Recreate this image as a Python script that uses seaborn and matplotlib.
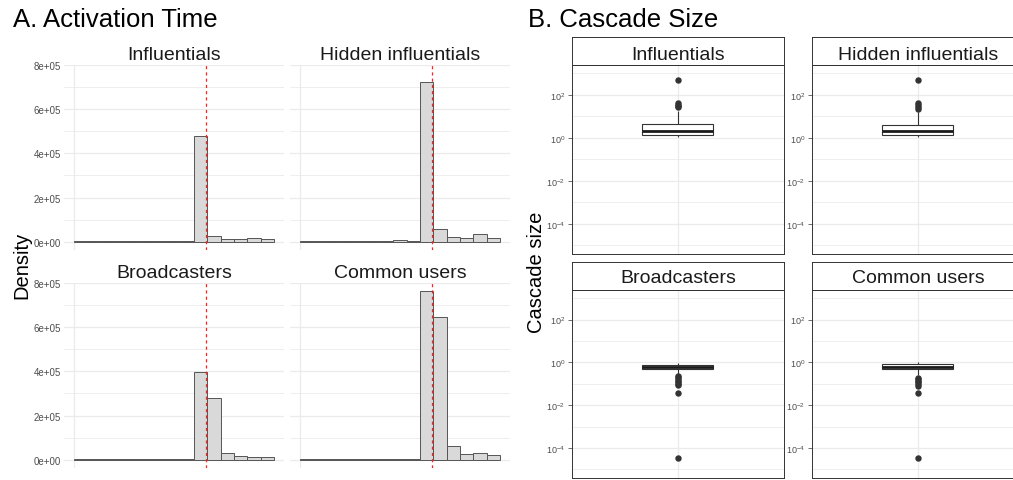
import numpy as np
import matplotlib
matplotlib.use("Agg")
import matplotlib.pyplot as plt
from matplotlib.ticker import FixedLocator, NullFormatter
import seaborn as sns

sns.set_theme(style="white")
plt.rcParams['font.family'] = ['Liberation Sans', 'DejaVu Sans']
plt.rcParams['mathtext.fontset'] = 'custom'
plt.rcParams['mathtext.rm'] = 'Liberation Sans'
plt.rcParams['mathtext.it'] = 'Liberation Sans:italic'

groups = ["Influentials", "Hidden influentials", "Broadcasters", "Common users"]

# A. activation time: 15 bins, density per bin
bin_edges = [0, 1, 2, 3, 4, 5, 6, 7, 8, 9, 10, 11, 12, 13, 14, 15]
act_influentials = [1000, 500, 500, 2500, 500, 500, 500, 2000, 2000, 480000, 24000, 10000, 10000, 16000, 10000]
act_hidden = [3000, 1000, 1000, 3000, 2000, 1000, 2000, 8000, 3000, 725000, 57000, 20000, 15000, 35000, 17000]
act_broadcasters = [1000, 500, 500, 2000, 500, 500, 500, 2000, 3000, 396000, 281000, 28000, 15000, 11000, 14000]
act_common = [1000, 500, 500, 2000, 3000, 1000, 1000, 3000, 3000, 763000, 649000, 63000, 26000, 29000, 20000]
act_marker = 9.93  # red dashed reference line
act_yticks = [0, 200000, 400000, 600000, 800000]
act_ylabels = ["0e+00", "2e+05", "4e+05", "6e+05", "8e+05"]

# B. cascade size samples
size_influentials = [1.07, 1.1, 1.15, 1.2, 1.25, 1.3, 1.36, 1.45, 1.6, 1.75, 1.9, 2.0, 2.14,
                     2.5, 2.9, 3.3, 3.7, 4.1, 4.4, 17, 27, 31, 35, 40, 480]
size_hidden = [1.07, 1.1, 1.15, 1.2, 1.25, 1.3, 1.32, 1.4, 1.5, 1.65, 1.8, 1.9, 2.03,
               2.3, 2.6, 2.9, 3.3, 3.6, 3.86, 15, 22, 27, 33, 40, 480]
size_broadcasters = [3.4e-5, 0.039, 0.085, 0.1, 0.12, 0.14, 0.17, 0.2, 0.23, 0.25,
                     0.47, 0.49, 0.5, 0.52, 0.53, 0.54, 0.55, 0.56, 0.57, 0.58,
                     0.585, 0.6, 0.62, 0.64, 0.65, 0.67, 0.69, 0.7, 0.72, 0.74,
                     0.75, 0.77, 0.79, 0.81, 0.83, 0.85, 0.87, 0.89, 0.92, 0.95, 0.97]
size_common = [3.4e-5, 0.039, 0.08, 0.1, 0.12, 0.14, 0.16, 0.19, 0.25, 0.35,
               0.47, 0.49, 0.5, 0.52, 0.53, 0.55, 0.56, 0.57, 0.58, 0.59,
               0.6, 0.62, 0.64, 0.66, 0.68, 0.7, 0.72, 0.74, 0.76, 0.78,
               0.81, 0.83, 0.85, 0.87, 0.89, 0.9, 0.92, 0.94, 0.96, 0.98, 1.0]
size_yticks = [1e-4, 1e-2, 1, 1e2]
size_ylabels = [r"$10^{-4}$", r"$10^{-2}$", r"$10^{0}$", r"$10^{2}$"]
size_yminor = [1e-5, 1e-3, 1e-1, 1e1, 1e3]

act_data = dict(zip(groups, [act_influentials, act_hidden, act_broadcasters, act_common]))
size_data = dict(zip(groups, [size_influentials, size_hidden, size_broadcasters, size_common]))

W, H = 1013, 481
fig = plt.figure(figsize=(W / 100, H / 100), dpi=100)


def box(l, t, r, b):
    return [l / W, 1 - b / H, (r - l) / W, (b - t) / H]


grid_c = "#EBEBEB"
text_c = "#1A1A1A"
tick_c = "#4D4D4D"
line_c = "#333333"

# ---------- A. Activation Time ----------
a_pos = {
    "Influentials": (64, 66, 284, 251, 60),
    "Hidden influentials": (290, 66, 510, 251, 60),
    "Broadcasters": (64, 284, 284, 469, 278),
    "Common users": (290, 284, 510, 469, 278),
}
centers = [e + 0.5 for e in bin_edges[:-1]]
for i, g in enumerate(groups):
    l, t, r, b, base = a_pos[g]
    ax = fig.add_axes(box(l, t, r, b))
    sns.histplot(x=centers, weights=act_data[g], bins=bin_edges, ax=ax,
                 color="#D9D9D9", edgecolor="#555555", linewidth=0.7, alpha=1)
    ax.axvline(act_marker, color="#FF2020", ls=(0, (2.5, 2.5)), lw=0.9, zorder=3)
    ax.set_xlim(-0.75, 15.75)
    ax.set_ylim(-38150, 801150)
    ax.set_yticks(act_yticks)
    ax.set_yticklabels(act_ylabels)
    ax.set_yticks([100000, 300000, 500000, 700000], minor=True)
    ax.set_xticks([0])
    ax.set_xticklabels([])
    ax.grid(True, which="major", color=grid_c, lw=0.9)
    ax.grid(True, which="minor", axis="y", color=grid_c, lw=0.6)
    ax.set_axisbelow(True)
    for s in ax.spines.values():
        s.set_visible(False)
    ax.tick_params(which="both", length=0, labelsize=7, labelcolor=tick_c, pad=2)
    if i % 2 == 1:
        ax.tick_params(labelleft=False)
    ax.set_xlabel("")
    ax.set_ylabel("")
    fig.text((l + r) / 2 / W, 1 - base / H, g, ha="center", va="baseline",
             fontsize=14, color=text_c)

fig.text(12.5 / W, 1 - 27.3 / H, "A. Activation Time", ha="left", va="baseline",
         fontsize=18.5, color="black")
fig.text(21.5 / W, 1 - 265 / H, "Density", rotation=90, ha="center", va="center",
         fontsize=14.5, color="black")

# ---------- B. Cascade Size ----------
b_pos = {
    "Influentials": (571.7, 38, 784, 66, 255, 60),
    "Hidden influentials": (811.7, 38, 1024, 66, 255, 60),
    "Broadcasters": (571.7, 263.3, 784, 291, 479, 283.3),
    "Common users": (811.7, 263.3, 1024, 291, 479, 283.3),
}
for g in groups:
    l, st, r, t, b, base = b_pos[g]
    ax = fig.add_axes(box(l, t, r, b))
    sns.boxplot(y=size_data[g], ax=ax, log_scale=True, width=0.4,
                color="white", linecolor=line_c, linewidth=0.8, fliersize=3.6,
                showcaps=False,
                medianprops={"linewidth": 2.0, "color": text_c},
                flierprops={"marker": "o", "markerfacecolor": line_c,
                            "markeredgecolor": line_c})
    ax.set_xlim(-0.6, 0.6)
    ax.set_ylim(10 ** -5.4, 10 ** 3.38)
    ax.set_yticks(size_yticks)
    ax.set_yticklabels(size_ylabels)
    ax.yaxis.set_minor_locator(FixedLocator(size_yminor))
    ax.yaxis.set_minor_formatter(NullFormatter())
    ax.set_xticks([0])
    ax.set_xticklabels([])
    ax.grid(True, which="major", color=grid_c, lw=0.9)
    ax.grid(True, which="minor", axis="y", color=grid_c, lw=0.6)
    ax.set_axisbelow(True)
    for s in ax.spines.values():
        s.set_color(line_c)
        s.set_linewidth(0.7)
    ax.tick_params(axis="y", which="major", length=3, width=0.5, color=line_c,
                   labelsize=6.5, labelcolor=tick_c, pad=1.5, left=True)
    ax.tick_params(axis="y", which="minor", length=0)
    ax.tick_params(axis="x", length=0)
    ax.set_xlabel("")
    ax.set_ylabel("")

    sax = fig.add_axes(box(l, st, r, t))
    sax.set_facecolor("white")
    sax.set_xticks([])
    sax.set_yticks([])
    for s in sax.spines.values():
        s.set_color(line_c)
        s.set_linewidth(0.7)
    fig.text((l + min(r, 1024)) / 2 / W, 1 - base / H, g, ha="center", va="baseline",
             fontsize=14, color=text_c)

fig.text(528.3 / W, 1 - 27.3 / H, "B. Cascade Size", ha="left", va="baseline",
         fontsize=18.5, color="black")
fig.text(536.5 / W, 1 - 272.5 / H, "Cascade size", rotation=90, ha="center",
         va="center", fontsize=14.5, color="black")

fig.savefig("out.png", dpi=100)
